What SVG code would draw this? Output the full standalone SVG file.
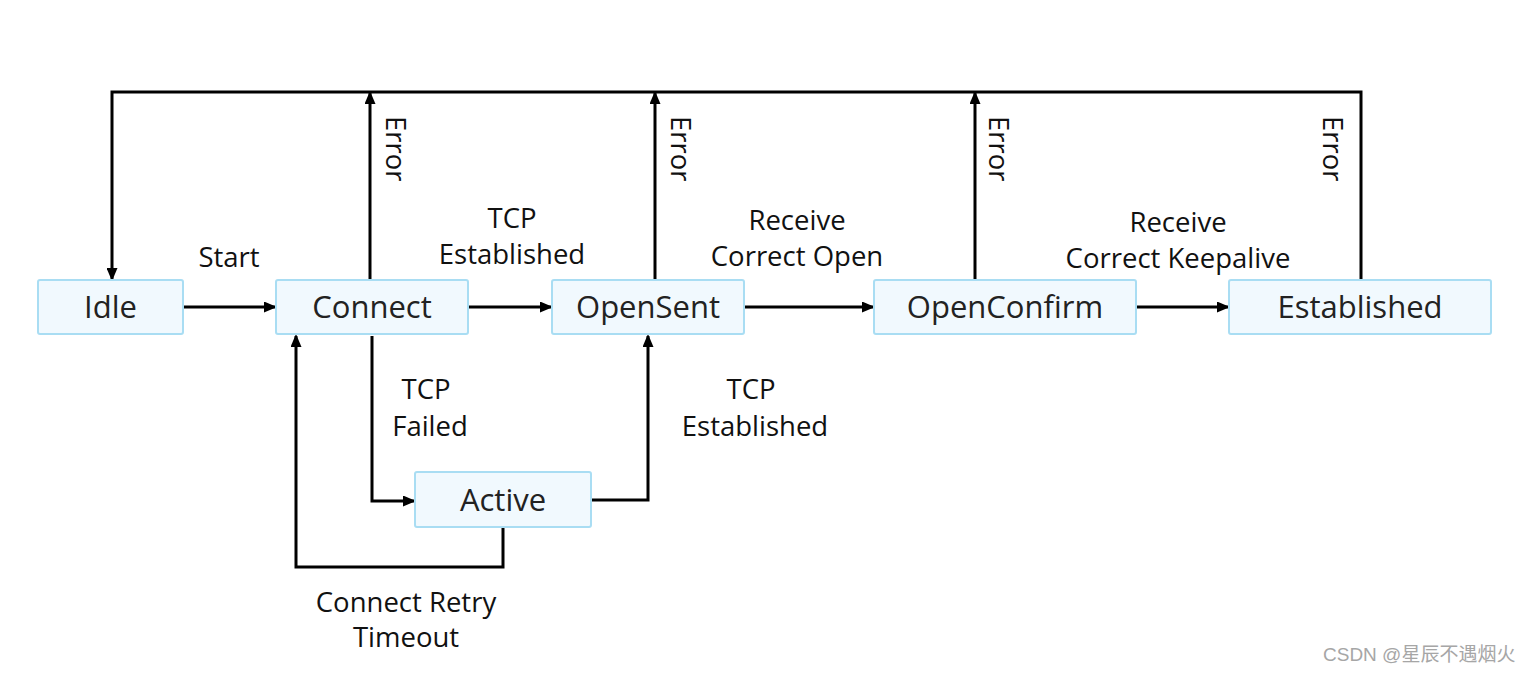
<svg xmlns="http://www.w3.org/2000/svg" width="1529" height="673" viewBox="0 0 1529 673">
<defs>
<marker id="arr" markerUnits="userSpaceOnUse" markerWidth="13" markerHeight="11" viewBox="0 0 13 11" refX="11" refY="5.5" orient="auto">
<path d="M0,0 L13,5.5 L0,11 z" fill="#000"/>
</marker>
<style>
.node rect{fill:#f1f9fe;stroke:#a9ddf3;stroke-width:2}
.node text{font-family:"Open Sans","Noto Sans",sans-serif;font-size:31px;fill:#222;text-anchor:middle}
.lbl{font-family:"Open Sans","Noto Sans",sans-serif;font-size:27.5px;fill:#111;text-anchor:middle}
.err{font-family:"Open Sans","Noto Sans",sans-serif;font-size:27.5px;fill:#111}
.conn path{fill:none;stroke:#000;stroke-width:3}
.wm{font-family:"Liberation Sans","Noto Sans CJK SC",sans-serif;font-size:19px;fill:#a6a6a6}
</style>
</defs>
<rect width="1529" height="673" fill="#fff"/>
<g id="connectors" class="conn">
<path d="M1361,280 V92 H112 V279" marker-end="url(#arr)"/>
<path d="M370,280 V93" marker-end="url(#arr)"/>
<path d="M655,280 V93" marker-end="url(#arr)"/>
<path d="M975,280 V93" marker-end="url(#arr)"/>
<path d="M184,307 H275" marker-end="url(#arr)"/>
<path d="M469,307 H551" marker-end="url(#arr)"/>
<path d="M745,307 H873" marker-end="url(#arr)"/>
<path d="M1137,307 H1228" marker-end="url(#arr)"/>
<path d="M372,336 V501 H414" marker-end="url(#arr)"/>
<path d="M592,500 H648 V336" marker-end="url(#arr)"/>
<path d="M503,528 V567 H296 V336" marker-end="url(#arr)"/>
</g>
<g id="labels">
<text class="lbl" x="229" y="267">Start</text>
<text class="lbl" x="512" y="228">TCP</text>
<text class="lbl" x="512" y="264">Established</text>
<text class="lbl" x="797" y="230">Receive</text>
<text class="lbl" x="797" y="266">Correct Open</text>
<text class="lbl" x="1178" y="232">Receive</text>
<text class="lbl" x="1178" y="268">Correct Keepalive</text>
<text class="lbl" x="426" y="399">TCP</text>
<text class="lbl" x="430" y="436">Failed</text>
<text class="lbl" x="751" y="399">TCP</text>
<text class="lbl" x="755" y="436">Established</text>
<text class="lbl" x="406" y="612">Connect Retry</text>
<text class="lbl" x="406" y="647">Timeout</text>
<text class="err" transform="translate(386,116) rotate(90)">Error</text>
<text class="err" transform="translate(671,116) rotate(90)">Error</text>
<text class="err" transform="translate(989,116) rotate(90)">Error</text>
<text class="err" transform="translate(1323,116) rotate(90)">Error</text>
</g>
<g id="node-idle" class="node"><rect x="38" y="280" width="145" height="54" rx="2"/><text x="110.5" y="318">Idle</text></g>
<g id="node-connect" class="node"><rect x="276" y="280" width="192" height="54" rx="2"/><text x="372" y="318">Connect</text></g>
<g id="node-opensent" class="node"><rect x="552" y="280" width="192" height="54" rx="2"/><text x="648" y="318">OpenSent</text></g>
<g id="node-openconfirm" class="node"><rect x="874" y="280" width="262" height="54" rx="2"/><text x="1005" y="318">OpenConfirm</text></g>
<g id="node-established" class="node"><rect x="1229" y="280" width="262" height="54" rx="2"/><text x="1360" y="318">Established</text></g>
<g id="node-active" class="node"><rect x="415" y="472" width="176" height="55" rx="2"/><text x="503" y="511">Active</text></g>
<text class="wm" x="1323" y="661">CSDN @星辰不遇烟火</text>
</svg>
